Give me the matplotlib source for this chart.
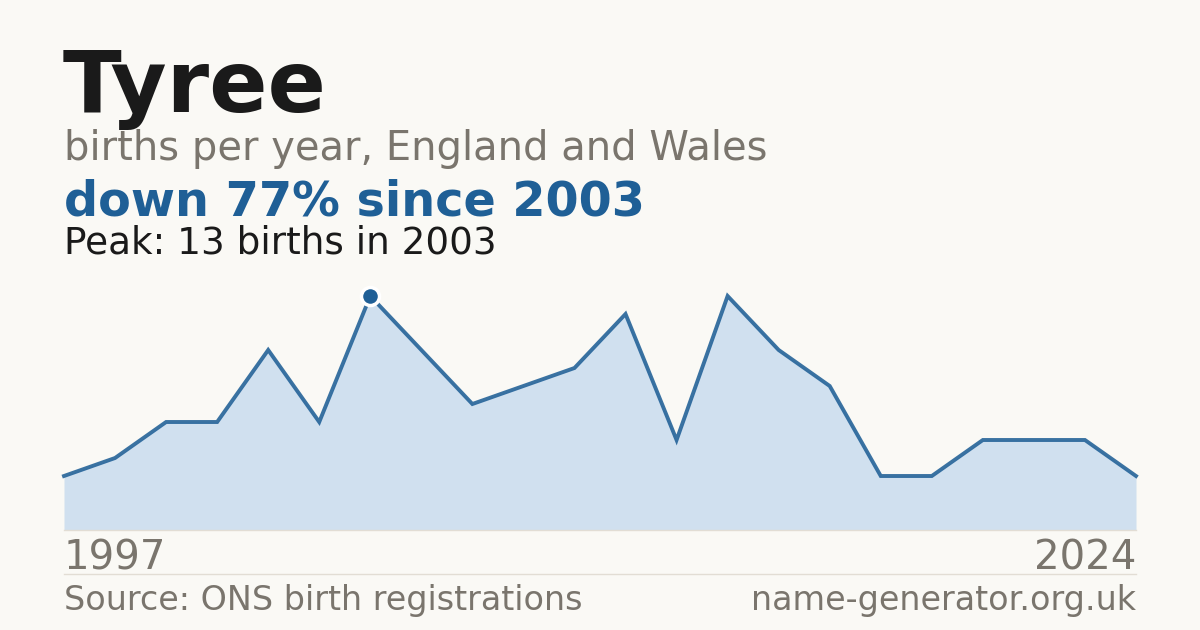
import numpy as np
import matplotlib
matplotlib.use("Agg")
import matplotlib.pyplot as plt

# births per year (first and last year labelled)
births = [3, 4, 6, 6, 10, 6, 13, 10, 7, 8, 9, 12, 5, 13, 10, 8, 3, 3, 5, 5, 5, 3]
first_year = "1997"
last_year = "2024"
peak_idx = 6

name = "Tyree"
subtitle = "births per year, England and Wales"
headline = "down 77% since 2003"
peak_text = "Peak: 13 births in 2003"
source = "Source: ONS birth registrations"
site = "name-generator.org.uk"

BG = "#faf9f5"
BLUE = "#1f5f96"
FILL = "#d0e0ef"
GREY = "#7a756d"
DARK = "#1a1a1a"

W, H = 1200, 630
fig = plt.figure(figsize=(W / 100, H / 100), dpi=100, facecolor=BG)


def fx(px):
    return px / W


def fy(py):
    return 1 - py / H


# plot area: x 64..1136, y baseline at 530, peak (13) at 296
ax = fig.add_axes([fx(64), fy(530), fx(1136 - 64), (530 - 296) / H])
ax.set_facecolor("none")
x = np.arange(len(births))
ax.fill_between(x, births, 0, color=FILL, lw=0, clip_on=False)
ax.plot(x, births, color=BLUE, lw=2.8, alpha=0.88, solid_joinstyle="miter", clip_on=False)
ax.plot(x[peak_idx], births[peak_idx], "o", ms=13, mfc=BLUE, mec="white", mew=2.5,
        clip_on=False, zorder=5)
ax.set_xlim(0, len(births) - 1)
ax.set_ylim(0, 13)
ax.axis("off")

# thin rules
fig.add_artist(plt.Line2D([fx(64), fx(1136)], [fy(530), fy(530)], color="#e2ddd4", lw=1))
fig.add_artist(plt.Line2D([fx(64), fx(1136)], [fy(574), fy(574)], color="#e2ddd4", lw=1))

fig.text(fx(63), fy(112), name, fontsize=62, fontweight="bold", color=DARK, va="baseline")
fig.text(fx(64), fy(160), subtitle, fontsize=28.8, color=GREY, va="baseline")
fig.text(fx(64), fy(215), headline, fontsize=34.4, fontweight="bold", color=BLUE, va="baseline")
fig.text(fx(64), fy(253), peak_text, fontsize=26.9, color=DARK, va="baseline")

fig.text(fx(64), fy(570), first_year, fontsize=29, color=GREY, va="baseline")
fig.text(fx(1136), fy(570), last_year, fontsize=29, color=GREY, va="baseline", ha="right")
fig.text(fx(64), fy(610), source, fontsize=24, color=GREY, va="baseline")
fig.text(fx(1136), fy(610), site, fontsize=24, color=GREY, va="baseline", ha="right")

fig.savefig("out.png", dpi=100, facecolor=BG)
